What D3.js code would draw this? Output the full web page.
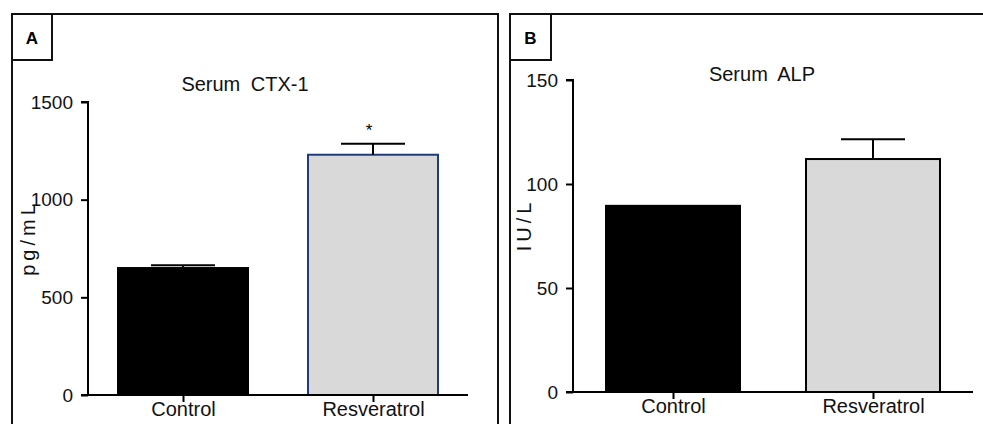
<!DOCTYPE html>
<html>
<head>
<meta charset="utf-8">
<script src="https://cdnjs.cloudflare.com/ajax/libs/d3/7.8.5/d3.min.js"></script>
<style>
  body { margin: 0; background: #fff; }
  svg { display: block; font-family: "Liberation Sans", Arial, sans-serif; }
</style>
</head>
<body>
<div id="chart"></div>
<script>
// data
const groups = ["Control", "Resveratrol"];

const ctxMeans = [650, 1230];
const ctxSem = [14, 56];
const ctxTicks = [0, 500, 1000, 1500];

const alpMeans = [89.5, 112];
const alpSem = [0, 9.5];
const alpTicks = [0, 50, 100, 150];

const svg = d3.select("#chart").append("svg")
    .attr("width", 983)
    .attr("height", 424);

function drawPanel(cfg) {
    const g = svg.append("g");

    // panel frame + letter box
    g.append("rect")
        .attr("x", cfg.frame[0]).attr("y", 14)
        .attr("width", cfg.frame[1] - cfg.frame[0]).attr("height", 440)
        .attr("fill", "none").attr("stroke", "#111").attr("stroke-width", 2);
    g.append("rect")
        .attr("x", cfg.frame[0]).attr("y", 14)
        .attr("width", cfg.boxW).attr("height", 46)
        .attr("fill", "none").attr("stroke", "#111").attr("stroke-width", 2);
    g.append("text")
        .attr("x", cfg.frame[0] + cfg.boxW / 2)
        .attr("y", 44)
        .attr("text-anchor", "middle")
        .attr("font-size", 17)
        .attr("font-weight", "bold")
        .text(cfg.letter);

    const x = d3.scalePoint()
        .domain(groups)
        .range([cfg.x0, cfg.x1])
        .padding(0.5);

    const y = d3.scaleLinear()
        .domain([0, d3.max(cfg.ticks)])
        .range([cfg.yBottom, cfg.yTop]);

    const rows = groups.map((k, i) => ({key: k, mean: cfg.means[i], sem: cfg.sem[i]}));

    // bars
    g.selectAll(".bar")
        .data(rows)
        .join("rect")
        .attr("class", "bar")
        .attr("x", d => x(d.key) - cfg.barW / 2)
        .attr("y", d => y(d.mean))
        .attr("width", cfg.barW)
        .attr("height", d => y(0) - y(d.mean))
        .attr("fill", (d, i) => i === 0 ? "#000" : "#d9d9d9")
        .attr("stroke", (d, i) => i === 0 ? "#000" : cfg.barStroke)
        .attr("stroke-width", 2);

    // error bars (upper only)
    const err = g.selectAll(".err")
        .data(rows.filter(d => d.sem > 0))
        .join("g")
        .attr("class", "err");
    err.append("line")
        .attr("x1", d => x(d.key)).attr("x2", d => x(d.key))
        .attr("y1", d => y(d.mean)).attr("y2", d => y(d.mean + d.sem))
        .attr("stroke", "#000").attr("stroke-width", 2);
    err.append("line")
        .attr("x1", d => x(d.key) - 32).attr("x2", d => x(d.key) + 32)
        .attr("y1", d => y(d.mean + d.sem)).attr("y2", d => y(d.mean + d.sem))
        .attr("stroke", "#000").attr("stroke-width", 2);

    if (cfg.star) {
        const s = rows[cfg.star];
        g.append("text")
            .attr("x", x(s.key) - 4)
            .attr("y", y(s.mean + s.sem) - 8)
            .attr("text-anchor", "middle")
            .attr("font-size", 17)
            .text("*");
    }

    // axes
    const yAxis = g.append("g")
        .attr("transform", `translate(${cfg.x0},0)`)
        .call(d3.axisLeft(y).tickValues(cfg.ticks).tickSize(7).tickPadding(8).tickFormat(d3.format("d")));
    const xAxis = g.append("g")
        .attr("transform", `translate(0,${cfg.yBottom})`)
        .call(d3.axisBottom(x).tickSize(7).tickPadding(0));

    [yAxis, xAxis].forEach(a => {
        a.select(".domain").attr("stroke", "#000").attr("stroke-width", 2);
        a.selectAll(".tick line").attr("stroke", "#000").attr("stroke-width", 2);
        a.selectAll("text").attr("fill", "#111").attr("font-family", "Liberation Sans, Arial, sans-serif");
    });
    yAxis.select(".domain").attr("d", `M-7,${cfg.yTop}H0V${cfg.yBottom}`);
    xAxis.select(".domain").attr("d", `M${cfg.x0 - 7},0H${cfg.x1}`);
    yAxis.selectAll("text").attr("font-size", 19);
    xAxis.selectAll("text").attr("font-size", 20);

    // title + y label
    g.append("text")
        .attr("x", cfg.titleX)
        .attr("y", cfg.titleY)
        .attr("text-anchor", "middle")
        .attr("font-size", 20)
        .attr("word-spacing", 5)
        .attr("fill", "#111")
        .text(cfg.title);

    g.append("text")
        .attr("transform", `translate(${cfg.labelX},${cfg.labelY}) rotate(-90)`)
        .attr("text-anchor", "middle")
        .attr("font-size", 20)
        .attr("letter-spacing", cfg.labelSpacing)
        .attr("fill", "#111")
        .text(cfg.label);
}

drawPanel({
    letter: "A", frame: [12, 498], boxW: 40,
    x0: 88, x1: 468, yBottom: 395, yTop: 102,
    means: ctxMeans, sem: ctxSem, ticks: ctxTicks,
    barW: 130, barStroke: "#1f3d7a", star: 1,
    title: "Serum CTX-1", titleX: 245, titleY: 91,
    label: "pg/mL", labelX: 35, labelY: 238, labelSpacing: 4
});

drawPanel({
    letter: "B", frame: [510, 1000], boxW: 41,
    x0: 573, x1: 973, yBottom: 392, yTop: 80,
    means: alpMeans, sem: alpSem, ticks: alpTicks,
    barW: 134, barStroke: "#000", star: null,
    title: "Serum ALP", titleX: 762, titleY: 81,
    label: "IU/L", labelX: 531, labelY: 225, labelSpacing: 4
});
</script>
</body>
</html>
